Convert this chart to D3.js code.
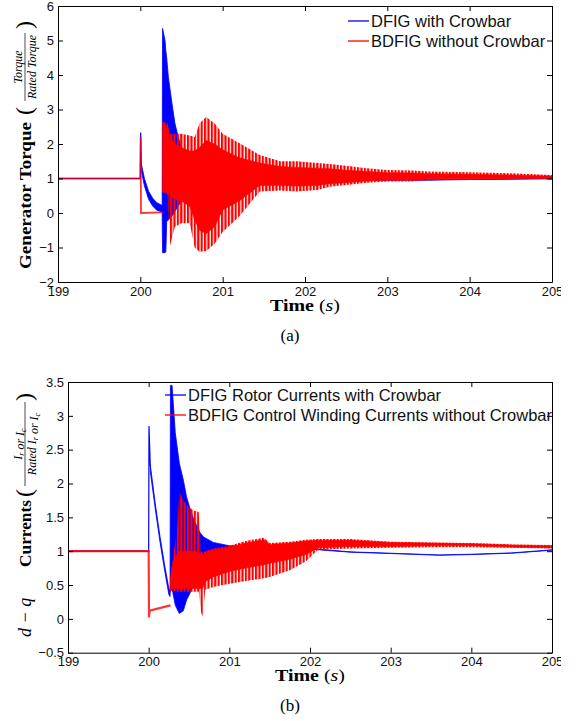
<!DOCTYPE html>
<html>
<head>
<meta charset="utf-8">
<script src="https://cdn.jsdelivr.net/npm/d3@7"></script>
<style>
body { margin: 0; background: #fff; }
svg { display: block; }
</style>
</head>
<body>
<svg id="fig" width="561" height="721"></svg>
<script>
// shared ticks
var timeTicks = [199, 200, 201, 202, 203, 204, 205];
var torqueTicks = [-2, -1, 0, 1, 2, 3, 4, 5, 6];
var currentTicks = [-0.5, 0, 0.5, 1, 1.5, 2, 2.5, 3, 3.5];

// (a) DFIG torque: pre-fault line, then oscillating envelope
var dfigTorqueLineT = [199, 200, 200.004, 200.012];
var dfigTorqueLineV = [1, 1, 2.33, 1.34];
var dfigTorqueT  = [200.012, 200.05, 200.1, 200.15, 200.2, 200.265, 200.27, 200.3, 200.31, 200.32, 200.34, 200.38, 200.42, 200.46, 200.5, 200.55, 200.6, 200.7, 200.85, 201, 201.3, 201.6, 202, 202.5, 203, 203.5, 204, 205];
var dfigTorqueHi = [1.42, 1.0, 0.63, 0.43, 0.3, 0.22, 5.35, 5.0, 4.7, 4.5, 3.95, 3.25, 2.6, 2.2, 1.9, 1.7, 1.55, 1.35, 1.25, 1.15, 1.1, 1.05, 1.02, 0.99, 0.97, 0.97, 0.98, 1.0];
var dfigTorqueLo = [1.22, 0.78, 0.4, 0.2, 0.08, 0.03, -1.15, -1.15, -1.12, -0.25, -0.2, -0.1, 0.05, 0.2, 0.35, 0.5, 0.6, 0.75, 0.85, 0.9, 0.93, 0.95, 0.95, 0.95, 0.95, 0.95, 0.97, 0.99];

// (a) BDFIG torque
var bdfigTorqueLineT = [199, 200, 200.004, 200.008, 200.27];
var bdfigTorqueLineV = [1, 1, 2.21, 0.0, 0.02];
var bdfigTorqueT      = [200.27, 200.33, 200.36, 200.42, 200.5, 200.6, 200.66, 200.72, 200.8, 200.9, 201.0, 201.2, 201.45, 201.7, 201.9, 202.15, 202.3, 202.5, 202.75, 203.0, 203.3, 203.5, 204.0, 204.5, 205];
var bdfigTorqueHi     = [2.65, 2.6, 2.3, 2.3, 2.3, 2.25, 2.2, 2.6, 2.78, 2.6, 2.3, 2.03, 1.68, 1.5, 1.5, 1.45, 1.42, 1.37, 1.3, 1.25, 1.23, 1.2, 1.18, 1.15, 1.1];
var bdfigTorqueLo     = [0.6, 0.55, -0.95, -0.4, -0.3, -0.3, -1.0, -1.12, -1.1, -0.9, -0.55, -0.1, 0.62, 0.65, 0.62, 0.67, 0.76, 0.81, 0.88, 0.91, 0.91, 0.96, 0.96, 0.99, 0.99];
var bdfigTorqueCoreHi = [2.6, 2.5, 2.2, 2.0, 1.9, 1.8, 1.8, 1.9, 2.1, 2.0, 1.83, 1.6, 1.45, 1.35, 1.32, 1.3, 1.28, 1.24, 1.2, 1.17, 1.16, 1.14, 1.12, 1.1, 1.07];
var bdfigTorqueCoreLo = [0.62, 0.6, 0.5, 0.4, 0.35, 0.2, -0.2, -0.5, -0.6, -0.4, 0.09, 0.35, 0.8, 0.8, 0.78, 0.8, 0.85, 0.88, 0.93, 0.96, 0.96, 0.99, 0.99, 1.01, 1.01];

// (b) DFIG rotor current
var dfigCurLineT = [199, 200, 200.004, 200.02];
var dfigCurLineV = [1, 1, 2.85, 2.25];
var dfigCurT  = [200.02, 200.08, 200.14, 200.2, 200.25, 200.265, 200.27, 200.29, 200.33, 200.38, 200.43, 200.47, 200.52, 200.55, 200.6, 200.64, 200.68, 200.8, 201, 201.5, 202, 202.5, 203, 203.6, 204, 204.5, 205];
var dfigCurHi = [2.28, 1.72, 1.22, 0.78, 0.45, 0.4, 3.45, 3.45, 2.75, 2.3, 2.05, 1.8, 1.6, 1.5, 1.36, 1.27, 1.21, 1.13, 1.08, 1.06, 1.04, 0.99, 0.97, 0.945, 0.955, 0.975, 1.02];
var dfigCurLo = [2.18, 1.64, 1.14, 0.7, 0.36, 0.33, 0.5, 0.45, 0.2, 0.08, 0.12, 0.28, 0.4, 0.53, 0.7, 0.77, 0.88, 0.99, 1.05, 1.04, 1.03, 0.985, 0.965, 0.94, 0.95, 0.97, 1.015];

// (b) BDFIG control winding current
var bdfigCurLineT = [199, 200, 200.004, 200.012, 200.27];
var bdfigCurLineV = [1, 1, 0.02, 0.12, 0.2];
var bdfigCurT      = [200.27, 200.3, 200.35, 200.38, 200.44, 200.5, 200.56, 200.62, 200.65, 200.67, 200.7, 200.8, 201.0, 201.2, 201.43, 201.5, 201.75, 201.95, 202.1, 202.5, 203, 203.5, 204, 204.5, 205];
var bdfigCurHi     = [0.6, 0.9, 1.3, 1.88, 1.73, 1.65, 1.6, 1.58, 1.0, 0.98, 1.0, 1.04, 1.08, 1.15, 1.2, 1.12, 1.14, 1.17, 1.18, 1.18, 1.14, 1.13, 1.12, 1.1, 1.09];
var bdfigCurLo     = [0.4, 0.42, 0.4, 0.4, 0.4, 0.4, 0.4, 0.4, 0.1, 0.03, 0.43, 0.47, 0.52, 0.56, 0.6, 0.62, 0.72, 0.85, 1.02, 1.04, 1.05, 1.06, 1.06, 1.05, 1.04];
var bdfigCurCoreHi = [0.6, 0.85, 0.95, 1.0, 1.0, 1.0, 1.0, 0.98, 0.95, 0.95, 0.98, 1.02, 1.06, 1.12, 1.17, 1.1, 1.12, 1.15, 1.16, 1.16, 1.13, 1.12, 1.11, 1.09, 1.08];
var bdfigCurCoreLo = [0.42, 0.45, 0.45, 0.45, 0.45, 0.45, 0.45, 0.45, 0.45, 0.45, 0.55, 0.62, 0.7, 0.75, 0.8, 0.82, 0.88, 0.95, 1.05, 1.07, 1.07, 1.08, 1.08, 1.06, 1.05];

var BLUE = "#0000ff", RED = "#ff0000";
var SANS = "'Liberation Sans', Arial, Helvetica, sans-serif";
var SERIF = "'Liberation Serif', 'Times New Roman', serif";

var svg = d3.select("#fig");

// vertical stripes stand in for the dense oscillation spikes
var defs = svg.append("defs");
defs.append("pattern")
	.attr("id", "stripes")
	.attr("patternUnits", "userSpaceOnUse")
	.attr("width", 3.4).attr("height", 10)
	.append("rect")
		.attr("width", 2.2).attr("height", 10)
		.attr("fill", RED);

function pts(t, v) { return t.map(function(d, i) { return {t: d, v: v[i]}; }); }
function band(t, hi, lo) { return t.map(function(d, i) { return {t: d, hi: hi[i], lo: lo[i]}; }); }

function drawPanel(p) {
	var x = d3.scaleLinear().domain([199, 205]).range([p.left, p.right]);
	var y = d3.scaleLinear().domain(p.yDomain).range([p.bottom, p.top]);
	var g = svg.append("g");

	var clipId = "clip" + p.id;
	defs.append("clipPath").attr("id", clipId)
		.append("rect")
			.attr("x", p.left).attr("y", p.top)
			.attr("width", p.right - p.left).attr("height", p.bottom - p.top);

	var area = d3.area()
		.x(function(d) { return x(d.t); })
		.y0(function(d) { return y(d.lo); })
		.y1(function(d) { return y(d.hi); });
	var line = d3.line()
		.x(function(d) { return x(d.t); })
		.y(function(d) { return y(d.v); });

	var plot = g.append("g").attr("clip-path", "url(#" + clipId + ")");

	// blue series first, red drawn over it
	plot.append("path").datum(p.blueBand).attr("d", area)
		.attr("fill", BLUE).attr("stroke", BLUE).attr("stroke-width", 0.8);
	plot.append("path").datum(p.blueLine).attr("d", line)
		.attr("fill", "none").attr("stroke", BLUE).attr("stroke-width", 1.2);
	plot.append("path").datum(p.redBand).attr("d", area)
		.attr("fill", "url(#stripes)");
	plot.append("path").datum(p.redCore).attr("d", area)
		.attr("fill", RED).attr("stroke", RED).attr("stroke-width", 0.6);
	plot.append("path").datum(p.redLine).attr("d", line)
		.attr("fill", "none").attr("stroke", RED).attr("stroke-width", p.redLineWidth)
		.attr("stroke-opacity", 0.8);

	// axes, ticks pointing inwards on all four sides
	var fmt = d3.format("");
	var ax = [
		g.append("g").attr("transform", "translate(0," + p.bottom + ")")
			.call(d3.axisBottom(x).tickValues(timeTicks).tickSizeInner(-5).tickSizeOuter(0).tickPadding(p.xPad).tickFormat(d3.format("d"))),
		g.append("g").attr("transform", "translate(0," + p.top + ")")
			.call(d3.axisTop(x).tickValues(timeTicks).tickSizeInner(-5).tickSizeOuter(0).tickFormat("")),
		g.append("g").attr("transform", "translate(" + p.left + ",0)")
			.call(d3.axisLeft(y).tickValues(p.yTicks).tickSizeInner(-5).tickSizeOuter(0).tickPadding(4).tickFormat(fmt)),
		g.append("g").attr("transform", "translate(" + p.right + ",0)")
			.call(d3.axisRight(y).tickValues(p.yTicks).tickSizeInner(-5).tickSizeOuter(0).tickFormat(""))
	];
	ax.forEach(function(a) {
		a.attr("font-family", SANS).attr("font-size", 13);
		a.selectAll("text").attr("fill", "#111");
		a.selectAll("path, line").attr("stroke", "#000").attr("stroke-width", 1);
	});

	// x label
	var xl = g.append("text")
		.attr("x", (p.left + p.right) / 2).attr("y", p.xLabelY)
		.attr("text-anchor", "middle")
		.attr("font-family", SERIF).attr("font-size", 17)
		.attr("textLength", 70).attr("lengthAdjust", "spacingAndGlyphs");
	xl.append("tspan").attr("font-weight", "bold").text("Time ");
	xl.append("tspan").text("(");
	xl.append("tspan").attr("font-style", "italic").text("s");
	xl.append("tspan").text(")");

	// caption
	g.append("text")
		.attr("x", 290).attr("y", p.captionY)
		.attr("text-anchor", "middle")
		.attr("font-family", SERIF).attr("font-size", 17)
		.text(p.caption);

	// legend (no box)
	p.legend.forEach(function(item, i) {
		var ly = p.legendY + i * 20;
		g.append("line")
			.attr("x1", p.legendX).attr("x2", p.legendX + 21)
			.attr("y1", ly).attr("y2", ly)
			.attr("stroke", item.color).attr("stroke-width", 1.3);
		g.append("text")
			.attr("x", p.legendX + 23).attr("y", ly + 6)
			.attr("font-family", SANS).attr("font-size", 16.5)
			.attr("fill", "#111")
			.text(item.label);
	});

	return g;
}

function fraction(g, cx, num, den, w) {
	// cx is position along the rotated label, numerator above the bar
	g.append("line").attr("x1", cx - w / 2).attr("x2", cx + w / 2)
		.attr("y1", 0).attr("y2", 0).attr("stroke", "#000").attr("stroke-width", 0.7);
	var n = g.append("text").attr("x", cx).attr("y", -3).attr("text-anchor", "middle")
		.attr("font-family", SERIF).attr("font-style", "italic").attr("font-size", 12);
	num(n);
	var d = g.append("text").attr("x", cx).attr("y", 11).attr("text-anchor", "middle")
		.attr("font-family", SERIF).attr("font-style", "italic").attr("font-size", 12);
	den(d);
}

function sub(t, base, s) {
	t.append("tspan").text(base);
	t.append("tspan").attr("font-size", 8).attr("dy", 2).text(s);
	t.append("tspan").attr("dy", -2).text("");
}

function parens(g, x0, x1) {
	g.append("text").attr("x", x0).attr("y", 7).attr("font-family", SERIF).attr("font-size", 24).text("(");
	g.append("text").attr("x", x1).attr("y", 7).attr("font-family", SERIF).attr("font-size", 24).text(")");
}

// ---------- panel (a)
drawPanel({
	id: "a", left: 58, right: 552, top: 6, bottom: 282,
	yDomain: [-2, 6], yTicks: torqueTicks, xPad: 5, xLabelY: 311,
	caption: "(a)", captionY: 341,
	legendX: 348, legendY: 21, redLineWidth: 1.8,
	legend: [{color: BLUE, label: "DFIG with Crowbar"}, {color: RED, label: "BDFIG without Crowbar"}],
	blueLine: pts(dfigTorqueLineT, dfigTorqueLineV),
	blueBand: band(dfigTorqueT, dfigTorqueHi, dfigTorqueLo),
	redLine: pts(bdfigTorqueLineT, bdfigTorqueLineV),
	redBand: band(bdfigTorqueT, bdfigTorqueHi, bdfigTorqueLo),
	redCore: band(bdfigTorqueT, bdfigTorqueCoreHi, bdfigTorqueCoreLo)
});

var ya = svg.append("g").attr("transform", "translate(25,144) rotate(-90)");
ya.append("text").attr("x", -125).attr("y", 6)
	.attr("font-family", SERIF).attr("font-weight", "bold").attr("font-size", 17)
	.attr("textLength", 147).attr("lengthAdjust", "spacingAndGlyphs")
	.text("Generator Torque");
parens(ya, 29, 115);
fraction(ya, 77, function(t) { t.text("Torque"); }, function(t) { t.text("Rated Torque"); }, 68);

// ---------- panel (b)
drawPanel({
	id: "b", left: 68, right: 552, top: 382, bottom: 652.7,
	yDomain: [-0.5, 3.5], yTicks: currentTicks, xPad: 4, xLabelY: 681,
	caption: "(b)", captionY: 711,
	legendX: 165, legendY: 395, redLineWidth: 2.2,
	legend: [{color: BLUE, label: "DFIG Rotor Currents with Crowbar"}, {color: RED, label: "BDFIG Control Winding Currents without Crowbar"}],
	blueLine: pts(dfigCurLineT, dfigCurLineV),
	blueBand: band(dfigCurT, dfigCurHi, dfigCurLo),
	redLine: pts(bdfigCurLineT, bdfigCurLineV),
	redBand: band(bdfigCurT, bdfigCurHi, bdfigCurLo),
	redCore: band(bdfigCurT, bdfigCurCoreHi, bdfigCurCoreLo)
});

var yb = svg.append("g").attr("transform", "translate(25,517) rotate(-90)");
yb.append("text").attr("x", -120).attr("y", 6)
	.attr("font-family", SERIF).attr("font-style", "italic").attr("font-size", 18)
	.text("d \u2212 q");
yb.append("text").attr("x", -50).attr("y", 6)
	.attr("font-family", SERIF).attr("font-weight", "bold").attr("font-size", 17)
	.attr("textLength", 67).attr("lengthAdjust", "spacingAndGlyphs")
	.text("Currents");
parens(yb, 20, 116);
fraction(yb, 73,
	function(t) { sub(t, "I", "r"); t.append("tspan").text(" or "); sub(t, "I", "c"); },
	function(t) { t.append("tspan").text("Rated "); sub(t, "I", "r"); t.append("tspan").text(" or "); sub(t, "I", "c"); },
	84);
</script>
</body>
</html>
